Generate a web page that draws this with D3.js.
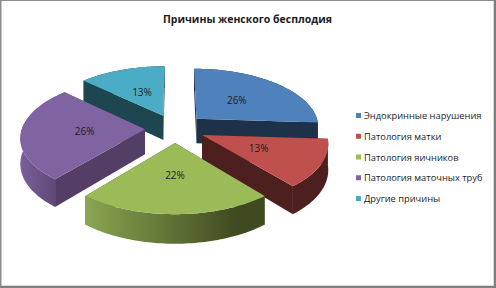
<!DOCTYPE html>
<html>
<head>
<meta charset="utf-8">
<script src="https://cdn.jsdelivr.net/npm/d3@7"></script>
<style>
html, body { margin: 0; padding: 0; background: #fff; }
svg { display: block; }
text { font-family: "Open Sans", "Noto Sans", sans-serif; fill: #1c1c1c; }
</style>
</head>
<body>
<div id="chart-area"></div>
<script>
var title = "Причины женского бесплодия";
var categories = ["Эндокринные нарушения", "Патология матки", "Патология яичников", "Патология маточных труб", "Другие причины"];
var values = [26, 13, 22, 26, 13];

var topColors = ["#4f81bd", "#c0504d", "#9bbb59", "#8064a2", "#4bacc6"];
var edgeColors = ["#1d3249", "#4d1f1e", "#45521f", "#533e66", "#1e4650"];
var arcLight = ["#1d3249", "#4d1f1e", "#8aa651", "#7a5f9a", "#1e4650"];
var arcDark = ["#1d3249", "#4d1f1e", "#3e4a20", "#5d4776", "#1e4650"];

var w = 496, h = 288;
var cx = 175, cy = 128.4;
var radius = 123, explode = 30, labelDist = 60;
var tilt = 0.475, persp = 0.001, depth = 25;

var svg = d3.select("#chart-area").append("svg")
    .attr("width", w)
    .attr("height", h);

// frame of the picture
function frame(x, y, fw, fh, color) {
    svg.append("rect").attr("x", x).attr("y", y).attr("width", fw).attr("height", fh).attr("fill", color);
}
frame(0, 285, w, 1, "#d9d9d9");
frame(493, 0, 1, h, "#d9d9d9");
frame(0, 0, w, 1, "#8c8c8c");
frame(0, 0, 1.5, h, "#8c8c8c");
frame(0, 286, w, 2, "#7f7f7f");
frame(494, 0, 2, h, "#7f7f7f");

// ground plane -> screen, z=1 is the bottom of the pie
function project(X, Y, z) {
    var s = 1 / (1 + persp * Y);
    return [cx + X * s, cy - tilt * Y * s + z * depth * s];
}

function point(d, angle, dist, z) {
    var mid = (d.startAngle + d.endAngle) / 2;
    var X = explode * Math.sin(mid) + dist * Math.sin(angle);
    var Y = explode * Math.cos(mid) + dist * Math.cos(angle);
    return project(X, Y, z);
}

function arcPoints(d, z) {
    var n = 60;
    return d3.range(n + 1).map((i)=>{
        return point(d, d.startAngle + (d.endAngle - d.startAngle) * i / n, radius, z);
    });
}

var line = d3.line().curve(d3.curveLinearClosed);

var pie = d3.pie().sort(null).value((d)=>{return d;});
var slices = pie(values);

var defs = svg.append("defs");

// back slices first
var order = [4, 0, 3, 1, 2];

var pieGroup = svg.append("g");

order.forEach((i)=>{
    var d = slices[i];
    var g = pieGroup.append("g");

    var walls = [d.startAngle, d.endAngle].map((a)=>{
        return [point(d, a, 0, 0), point(d, a, radius, 0), point(d, a, radius, 1), point(d, a, 0, 1)];
    });
    walls.sort((a, b)=>{return d3.mean(a, (p)=>{return p[1];}) - d3.mean(b, (p)=>{return p[1];});});
    walls.forEach((q)=>{
        g.append("path").attr("d", line(q)).attr("fill", edgeColors[i]);
    });

    var topArc = arcPoints(d, 0);
    var bottomArc = arcPoints(d, 1).reverse();
    var xs = d3.extent(topArc, (p)=>{return p[0];});

    var grad = defs.append("linearGradient")
        .attr("id", "wall" + i)
        .attr("gradientUnits", "userSpaceOnUse")
        .attr("x1", xs[0]).attr("x2", xs[1]).attr("y1", 0).attr("y2", 0);
    grad.append("stop").attr("offset", 0).attr("stop-color", arcLight[i]);
    grad.append("stop").attr("offset", 0.85).attr("stop-color", arcDark[i]);

    g.append("path")
        .attr("d", line(topArc.concat(bottomArc)))
        .attr("fill", "url(#wall" + i + ")");

    g.append("path")
        .attr("d", line([point(d, 0, 0, 0)].concat(topArc)))
        .attr("fill", topColors[i]);

    var mid = (d.startAngle + d.endAngle) / 2;
    var c = point(d, mid, labelDist, 0);
    g.append("text")
        .attr("x", c[0])
        .attr("y", c[1] + 3.5)
        .attr("text-anchor", "middle")
        .attr("font-size", "10px")
        .text(d.data + "%");
});

svg.append("text")
    .attr("x", 247.5)
    .attr("y", 23)
    .attr("text-anchor", "middle")
    .attr("font-size", "10.5px")
    .attr("font-weight", "bold")
    .text(title);

// legend
var legendY = d3.scalePoint().domain(categories).range([116, 199]);

var legend = svg.append("g").selectAll("g")
    .data(categories)
    .enter().append("g")
    .attr("transform", (d)=>{return "translate(356, " + legendY(d) + ")";});

legend.append("rect")
    .attr("x", 0).attr("y", -3)
    .attr("width", 5).attr("height", 5)
    .attr("fill", (d, i)=>{return topColors[i];});

legend.append("text")
    .attr("x", 8)
    .attr("y", 3)
    .attr("font-size", "9.3px")
    .text((d)=>{return d;});
</script>
</body>
</html>
